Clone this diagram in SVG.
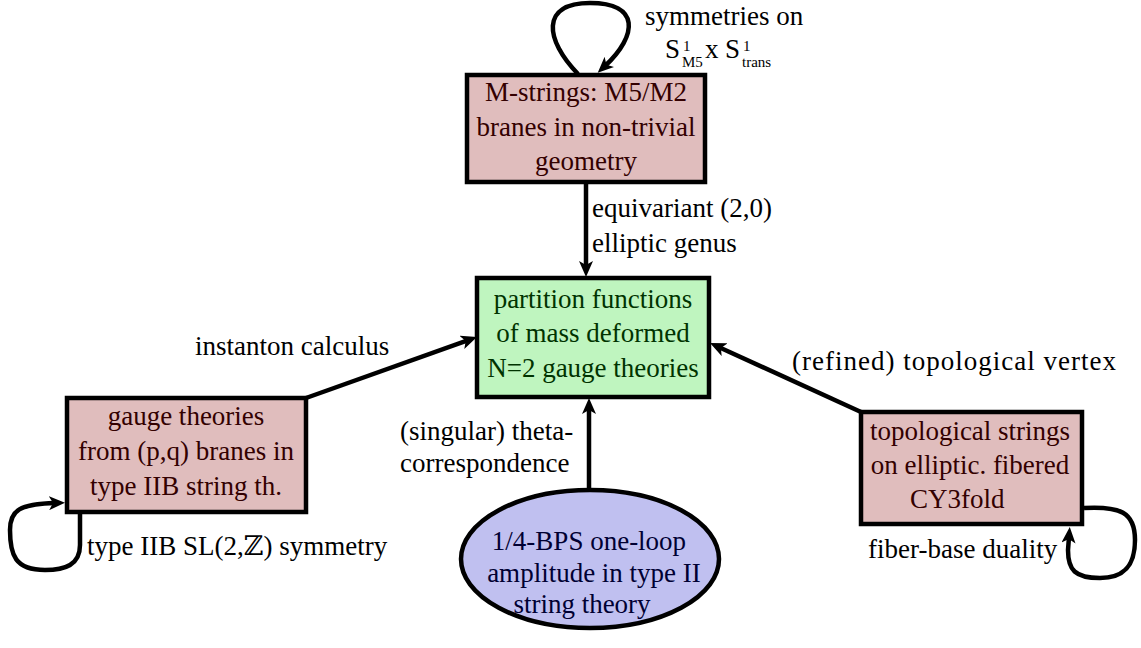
<svg xmlns="http://www.w3.org/2000/svg" width="1141" height="648" viewBox="0 0 1141 648" font-family="'Liberation Serif', 'DejaVu Serif', serif">
<style>
text{font-family:'Liberation Serif','DejaVu Serif',serif;font-size:27px;fill:#000}
.c{text-anchor:middle}
.pk{fill:#e0bdbd;stroke:#000;stroke-width:4.5}
.pkt{fill:#330000}
.gr{fill:#bff5bf;stroke:#000;stroke-width:4.5}
.grt{fill:#003300}
.bl{fill:#c0c0f0;stroke:#000;stroke-width:4.5}
.blt{fill:#000033}
.e{fill:none;stroke:#000;stroke-width:4.5}
.s{font-size:15px}
</style>
<defs>
<marker id="ah" markerUnits="userSpaceOnUse" markerWidth="16" markerHeight="14" viewBox="0 0 16 14" refX="6" refY="7" orient="auto">
<path d="M0,0 L16,7 L0,14 L4,7 z" fill="#000"/>
</marker>
</defs>
<g id="connectors">
<path class="e" d="M586,182 L586,267" marker-end="url(#ah)"/>
<path class="e" d="M306,398 L467.6,340.4" marker-end="url(#ah)"/>
<path class="e" d="M861,412 L719.1,347.2" marker-end="url(#ah)"/>
<path class="e" d="M589,490 L589,408" marker-end="url(#ah)"/>
<path class="e" d="M578,74 C545,40 540,3 590,3 C640,3 638,35 605,66" marker-end="url(#ah)"/>
<path class="e" d="M80,514 L80,545 C80,565 65,570 45,570 C15,570 10,555 10,530 C10,510 20,504 55,503" marker-end="url(#ah)"/>
<path class="e" d="M1084,508 C1120,506 1135,512 1135,540 C1135,570 1120,578 1100,578 C1075,578 1068,570 1068,550 L1069,537" marker-end="url(#ah)"/>
<text x="645" y="25">symmetries on</text>
<text x="665" y="58">S</text>
<text class="s" x="683" y="51">1</text>
<text class="s" x="682" y="67">M5</text>
<text x="705" y="58">x</text>
<text x="725" y="58">S</text>
<text class="s" x="743" y="51">1</text>
<text class="s" x="742" y="67">trans</text>
<text x="592" y="217">equivariant (2,0)</text>
<text x="592" y="252">elliptic genus</text>
<text x="195" y="355">instanton calculus</text>
<text x="792" y="370" textLength="324" lengthAdjust="spacing">(refined) topological vertex</text>
<text x="400" y="440">(singular) theta-</text>
<text x="400" y="472">correspondence</text>
<text x="87" y="555">type IIB SL(2,ℤ) symmetry</text>
<text x="868" y="558">fiber-base duality</text>
</g>
<g id="mstrings">
<rect class="pk" x="467" y="75" width="238" height="107"/>
<text class="c pkt" x="586" y="101">M-strings: M5/M2</text>
<text class="c pkt" x="586" y="136">branes in non-trivial</text>
<text class="c pkt" x="586" y="170">geometry</text>
</g>
<g id="partition">
<rect class="gr" x="477" y="278" width="232" height="119"/>
<text class="c grt" x="593" y="308">partition functions</text>
<text class="c grt" x="593" y="342">of mass deformed</text>
<text class="c grt" x="593" y="377">N=2 gauge theories</text>
</g>
<g id="gauge">
<rect class="pk" x="67" y="398" width="239" height="114"/>
<text class="c pkt" x="186" y="425">gauge theories</text>
<text class="c pkt" x="186" y="460">from (p,q) branes in</text>
<text class="c pkt" x="186" y="495">type IIB string th.</text>
</g>
<g id="topological">
<rect class="pk" x="861" y="412" width="221" height="112"/>
<text class="c pkt" x="970" y="440">topological strings</text>
<text class="c pkt" x="970" y="474">on elliptic. fibered</text>
<text class="pkt" x="910" y="508">CY3fold</text>
</g>
<g id="bps">
<ellipse class="bl" cx="590" cy="559" rx="129" ry="69"/>
<text class="c blt" x="589" y="550">1/4-BPS one-loop</text>
<text class="c blt" x="594" y="582">amplitude in type II</text>
<text class="c blt" x="582" y="613">string theory</text>
</g>
</svg>
